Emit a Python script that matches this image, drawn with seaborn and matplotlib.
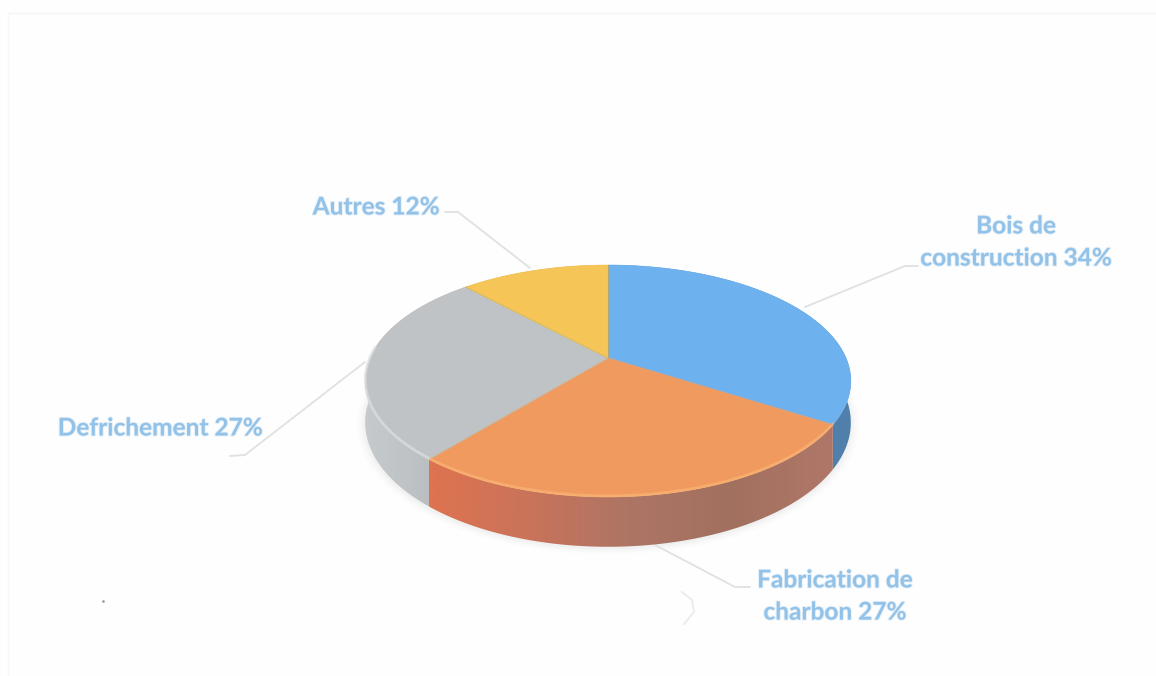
import numpy as np
import matplotlib
matplotlib.use("Agg")
import matplotlib.pyplot as plt
import matplotlib.patheffects as pe
from matplotlib.colors import LinearSegmentedColormap
from matplotlib.patches import Polygon
import seaborn as sns

# ---- data ----
categories = ["Bois de\nconstruction", "Fabrication de\ncharbon", "Defrichement", "Autres"]
shares = [34, 27, 27, 12]
top_colors = ["#6DB1EE", "#F09A60", "#BFC3C6", "#F5C657"]
wall_ramps = [
    ["#5C8FBE", "#4F7FAA"],
    ["#DE7350", "#C9735A", "#AD7565", "#A2705F", "#B07768"],
    ["#C6CACC", "#B4B9BC"],
    ["#C9A040", "#C9A040"],
]
rim_colors = ["#6DB1EE", "#FBB777", "#E0E3E4", "#F5C657"]

sns.set_theme(style="white")
plt.rcParams["font.family"] = ["Lato", "DejaVu Sans"]

fig = plt.figure(figsize=(11.56, 6.76), dpi=100, facecolor="#FEFEFE")
ax = fig.add_axes([0, 0, 1, 1])
ax.set_facecolor("#FEFEFE")
ax.axis("off")

# perspective disk: apex, half-axes, foreshortening and wall height (pixels)
CX, CY, BX, BY, K, WALL = 608.0, 358.0, 238.0, 111.4, 0.198, 40.0


def project(theta, radius=1.0, wall=0.0):
    u = radius * np.sin(theta)
    v = radius * np.cos(theta)
    den = 1 + K * v
    return CX + BX * u / den, CY - BY * v / den + wall / den


edges = np.deg2rad(np.concatenate([[0], np.cumsum(shares)]) * 3.6)
spans = [np.linspace(a, b, 160) for a, b in zip(edges[:-1], edges[1:])]

# soft shadow under the disk
full = np.linspace(0, 2 * np.pi, 360)
for grow, alpha in zip([1.035, 1.025, 1.015, 1.006], [0.012, 0.02, 0.03, 0.04]):
    sx, sy = project(full, grow, WALL + 1)
    ax.fill(sx, sy, color="#8A8F92", alpha=alpha, lw=0, zorder=1)

# outer wall of every slice, with a left-to-right colour ramp
for th, ramp in zip(spans, wall_ramps):
    tx, ty = project(th)
    bx, by = project(th, wall=WALL)
    xs = np.concatenate([tx, bx[::-1]])
    ys = np.concatenate([ty, by[::-1]])
    poly = Polygon(np.column_stack([xs, ys]), closed=True, fc="none", ec="none", zorder=2)
    ax.add_patch(poly)
    cmap = LinearSegmentedColormap.from_list("w", ramp)
    im = ax.imshow(np.linspace(0, 1, 256)[None, :], cmap=cmap, aspect="auto",
                   extent=[max(xs.min(), 365), xs.max(), ys.max(), ys.min()], zorder=2)
    im.set_clip_path(poly)

# top faces
for th, color, rim in zip(spans, top_colors, rim_colors):
    x, y = project(th)
    ax.fill(np.r_[CX, x], np.r_[CY, y], color=color, lw=0.4, zorder=3)
    front = np.cos(th) < 0.1
    if rim != color:
        ax.plot(np.where(front, x, np.nan), np.where(front, y - 1.0, np.nan),
                color=rim, lw=2.0, alpha=0.65, zorder=4, solid_capstyle="round")

# darker hairlines between slices
for a, c in zip(edges[:-1], ["#B9A566", "#D9A27C", "#C9B89A", "#D5B560"]):
    x, y = project(np.array([a]))
    ax.plot([CX, x[0]], [CY, y[0]], color=c, lw=0.8, alpha=0.7, zorder=4)

# leader lines
leaders = [
    ([805, 905, 918], [307, 266, 266]),
    ([655, 735, 750], [545, 587, 587]),
    ([365, 245, 230], [362, 455, 456]),
    ([530, 458, 445], [268, 212, 212]),
]
for lx, ly in leaders:
    ax.plot(lx, ly, color="#DFE1E2", lw=1.3, zorder=1.5, solid_joinstyle="round")

# labels
label_xy = [(1016, 242), (835, 596), (160, 428), (376, 207)]
for name, share, (lx, ly) in zip(categories, shares, label_xy):
    ax.text(lx, ly, f"{name} {share}%", ha="center", va="center", fontsize=17.6,
            fontweight="bold", color="#93C2E8", linespacing=1.48, zorder=6,
            path_effects=[pe.withStroke(linewidth=1.4, foreground="#D5E7F5", alpha=0.6)])

# faint scanned frame and specks
ax.plot([8, 1156], [13, 13], color="#F5F5F5", lw=1, zorder=0.5)
ax.plot([8, 8], [13, 676], color="#F7F7F7", lw=1, zorder=0.5)
ax.plot([103], [601], marker="o", ms=1.8, color="#8E8E8E", mew=0, zorder=0.5)
ax.plot([682, 692, 694, 684], [592, 600, 612, 624], color="#EDEDED", lw=1.5, zorder=0.5)

ax.set_xlim(0, 1156)
ax.set_ylim(676, 0)
fig.savefig("out.png", dpi=100, facecolor=fig.get_facecolor())
